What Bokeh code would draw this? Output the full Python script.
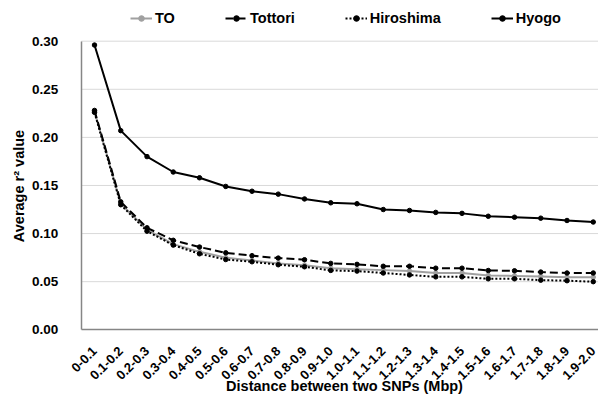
import math
from bokeh.plotting import figure
from bokeh.models import (Range1d, FixedTicker, NumeralTickFormatter,
                          Legend, LegendItem, Label, ColumnDataSource)
from bokeh.embed import file_html
from bokeh.resources import INLINE

categories = ["0-0.1", "0.1-0.2", "0.2-0.3", "0.3-0.4", "0.4-0.5", "0.5-0.6",
              "0.6-0.7", "0.7-0.8", "0.8-0.9", "0.9-1.0", "1.0-1.1", "1.1-1.2",
              "1.2-1.3", "1.3-1.4", "1.4-1.5", "1.5-1.6", "1.6-1.7", "1.7-1.8",
              "1.8-1.9", "1.9-2.0"]
to_vals = [0.227, 0.131, 0.104, 0.089, 0.081, 0.075, 0.072, 0.069, 0.067, 0.064,
           0.063, 0.062, 0.061, 0.059, 0.059, 0.0565, 0.056, 0.0555, 0.0547, 0.0547]
tottori_vals = [0.228, 0.133, 0.106, 0.093, 0.086, 0.080, 0.077, 0.0745, 0.0728, 0.069,
                0.068, 0.066, 0.066, 0.064, 0.064, 0.0616, 0.0613, 0.060, 0.059, 0.059]
hiroshima_vals = [0.226, 0.130, 0.1025, 0.088, 0.079, 0.073, 0.0707, 0.0676, 0.0655, 0.0617,
                  0.061, 0.059, 0.057, 0.055, 0.055, 0.053, 0.053, 0.0516, 0.051, 0.050]
hyogo_vals = [0.296, 0.207, 0.180, 0.164, 0.158, 0.149, 0.144, 0.141, 0.136, 0.132,
              0.131, 0.125, 0.124, 0.122, 0.121, 0.118, 0.117, 0.116, 0.1136, 0.112]
y_ticks = [0.0, 0.05, 0.10, 0.15, 0.20, 0.25, 0.30]

FONT = "Liberation Sans"
n = len(categories)
xpos = list(range(n))
y_top = y_ticks[-1]

p = figure(width=598, height=394, output_backend="svg", toolbar_location=None,
           x_range=Range1d(-3.581, 19.2), y_range=Range1d(-0.0673, 0.3423),
           min_border_left=0, min_border_right=0, min_border_top=0, min_border_bottom=0)
p.outline_line_color = None
p.background_fill_color = "white"
p.xgrid.visible = False
p.ygrid.visible = False

# horizontal grid lines (from the tick values, excluding the x axis at 0)
grid_y = y_ticks[1:]
p.segment(x0=[-0.5] * len(grid_y), x1=[n - 0.5] * len(grid_y), y0=grid_y, y1=grid_y,
          line_color="#d9d9d9", line_width=1)

series = [
    ("TO", to_vals, "#a0a0a0", "solid"),
    ("Tottori", tottori_vals, "black", "8 4"),
    ("Hiroshima", hiroshima_vals, "black", "2 2"),
    ("Hyogo", hyogo_vals, "black", "solid"),
]
items = []
for name, vals, color, dash in series:
    src = ColumnDataSource(dict(x=xpos, y=vals))
    l = p.line("x", "y", source=src, line_color=color, line_width=2, line_dash=dash)
    c = p.scatter("x", "y", source=src, size=4.5, fill_color=color, line_color=color)
    items.append(LegendItem(label=name, renderers=[l, c]))

legend = Legend(items=items, orientation="horizontal", location=(130, 368),
                glyph_width=22, glyph_height=14, label_height=14, label_standoff=3,
                spacing=50, padding=0, margin=0, border_line_alpha=0,
                background_fill_alpha=0, label_text_font=FONT,
                label_text_font_style="bold", label_text_font_size="14.5px",
                label_text_color="black")
p.add_layout(legend, "center")

# y axis (fixed at the left category boundary)
yax = p.yaxis[0]
yax.fixed_location = -0.5
yax.bounds = (0, y_top)
yax.ticker = FixedTicker(ticks=y_ticks)
yax.formatter = NumeralTickFormatter(format="0.00")
yax.major_tick_line_color = None
yax.minor_tick_line_color = None
yax.major_label_standoff = 17
yax.axis_line_color = "#868686"
yax.axis_line_width = 1.5
yax.major_label_text_font = FONT
yax.major_label_text_font_style = "bold"
yax.major_label_text_font_size = "13.5px"
yax.major_label_text_color = "black"

# x axis (fixed at y = 0)
xax = p.xaxis[0]
xax.fixed_location = 0
xax.bounds = (-0.5, n - 0.5)
xax.ticker = FixedTicker(ticks=xpos)
xax.major_label_overrides = {i: c for i, c in enumerate(categories)}
xax.major_tick_line_color = None
xax.minor_tick_line_color = None
xax.major_label_orientation = math.pi / 4
xax.major_label_standoff = 13
xax.axis_line_color = "#868686"
xax.axis_line_width = 1.5
xax.major_label_text_font = FONT
xax.major_label_text_font_style = "bold"
xax.major_label_text_font_size = "13px"
xax.major_label_text_color = "black"

ytitle = Label(x=18.5, y=208.5, x_units="screen", y_units="screen",
               text="Average r\u00b2 value", angle=math.pi / 2, text_align="center",
               text_baseline="middle", text_font=FONT, text_font_style="bold",
               text_font_size="14.5px", text_color="black")
p.add_layout(ytitle)

xtitle = Label(x=344, y=9, x_units="screen", y_units="screen",
               text="Distance between two SNPs (Mbp)", text_align="center",
               text_baseline="middle", text_font=FONT, text_font_style="bold",
               text_font_size="14.5px", text_color="black")
p.add_layout(xtitle)

open("out.html", "w").write(file_html(p, INLINE))
